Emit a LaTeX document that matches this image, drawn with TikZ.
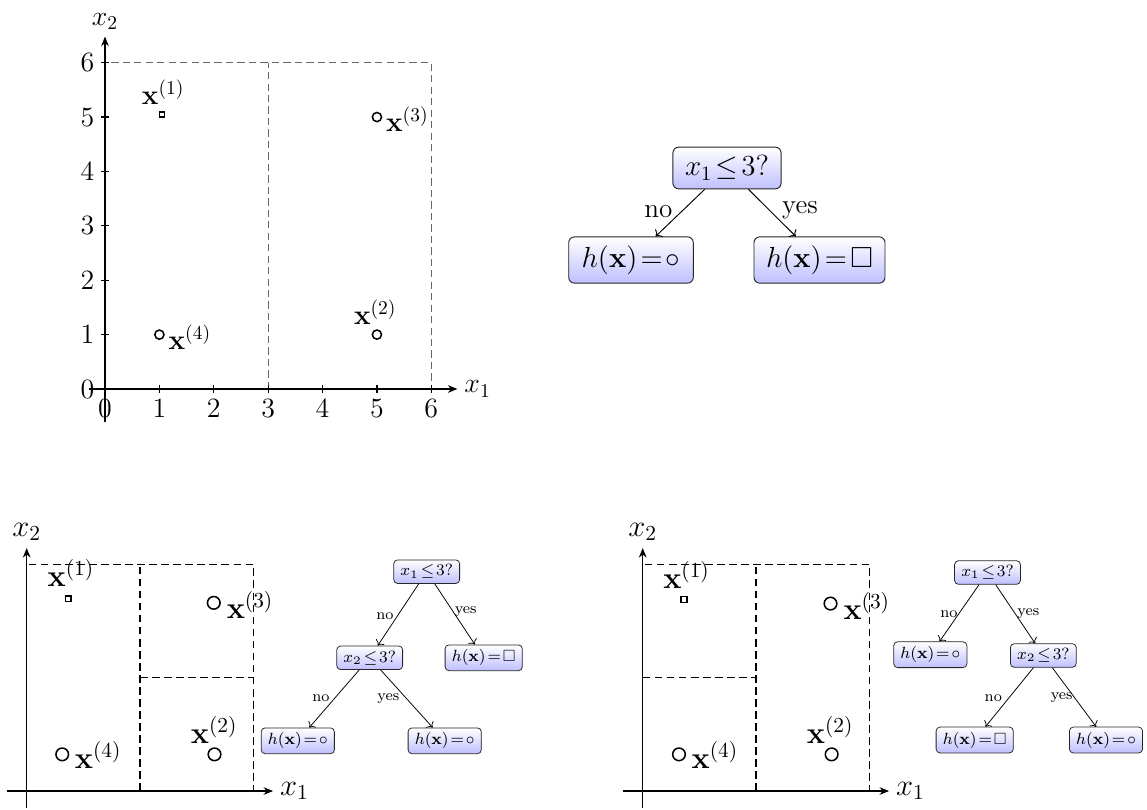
\RequirePackage{fix-cm}
\documentclass[tikz,border=0pt]{standalone}
\usepackage{amssymb}
\usetikzlibrary{arrows.meta}
\newcommand{\relsp}{\mskip2mu}
\tikzset{
  tbox/.style={draw=black!85, line width=0.5pt, rounded corners=3pt, top color=white, bottom color=blue!25},
  bigbox/.style={tbox, inner xsep=6.3pt, inner ysep=4.5pt, font=\fontsize{15.2}{18}\selectfont},
  bigleaf/.style={bigbox, minimum width=2.29cm},
  smallbox/.style={tbox, rounded corners=2pt, line width=0.4pt, inner xsep=3.5pt, inner ysep=2.5pt, font=\fontsize{8.5}{10}\selectfont},
  smallleaf/.style={smallbox, minimum width=1.29cm},
  biglbl/.style={font=\fontsize{14.2}{17}\selectfont, inner sep=0pt},
  smalllbl/.style={font=\fontsize{8}{9.5}\selectfont, inner sep=0pt},
  bigedge/.style={->, line width=0.5pt},
  smalledge/.style={->, line width=0.4pt},
  axisline/.style={-{Stealth[length=5pt,width=4pt]}, line width=0.7pt},
  tickline/.style={line width=0.6pt},
  topdash/.style={draw=black!60, line width=0.6pt, dash pattern=on 3.8pt off 2.2pt},
  botdash/.style={draw=black, line width=0.75pt, dash pattern=on 4pt off 2.3pt},
  circA/.style={circle, draw, line width=0.8pt, minimum size=4.8pt, inner sep=0pt},
  sqA/.style={rectangle, draw, line width=0.8pt, minimum size=2.6pt, inner sep=0pt},
  circB/.style={circle, draw, line width=0.8pt, minimum size=6.6pt, inner sep=0pt},
  sqB/.style={rectangle, draw, line width=0.8pt, minimum size=3.0pt, inner sep=0pt},
}
\begin{document}
\begin{tikzpicture}[x=0.018382cm, y=-0.018382cm]
\useasboundingbox (0,0) rectangle (1147,809);

% ---------- top plot ----------
\begin{scope}[shift={(105,389)}, x=1cm, y=1cm, font=\fontsize{14.6}{17}\selectfont]
  \draw[topdash] (0,0) rectangle (6,6);
  \draw[topdash] (3,0) -- (3,6);
  \foreach \i in {0,...,6} {
    \draw[tickline] (\i,0.08) -- (\i,-0.08) node[below, inner sep=3pt] (tx\i) {$\i$};
    \draw[tickline] (0.08,\i) -- (-0.08,\i) node[left, inner sep=3pt] (ty\i) {$\i$};
  }
  \draw[axisline] (-0.3,0) -- (6.48,0) node[right] (ax1) {$x_1$};
  \draw[axisline] (0,-0.6) -- (0,6.48) node[above] (ax2) {$x_2$};
  \node[sqA] (a1) at (1.05,5.05) {};
  \node[circA] (a3) at (5,5) {};
  \node[circA] (a2) at (5,1) {};
  \node[circA] (a4) at (1,1) {};
  \node (la1) at (1.07,5.46) {$\mathbf{x}^{(1)}$};
  \node (la3) at (5.56,4.96) {$\mathbf{x}^{(3)}$};
  \node (la2) at (4.97,1.41) {$\mathbf{x}^{(2)}$};
  \node (la4) at (1.56,0.96) {$\mathbf{x}^{(4)}$};
\end{scope}

% ---------- top tree ----------
\node[bigbox] (t0) at (727,168) {$x_1\relsp{\leq}\relsp 3?$};
\node[bigleaf] (t1) at (631,260) {$h(\mathbf{x})\relsp{=}\relsp\circ$};
\node[bigleaf] (t2) at (819.5,260) {$h(\mathbf{x})\relsp{=}\relsp\square$};
\draw[bigedge] (t0) -- (t1);
\draw[bigedge] (t0) -- (t2);
\node[biglbl] (tn) at (658.3,211.7) {no};
\node[biglbl] (ty) at (800,210) {yes};

% ---------- bottom-left plot ----------
\begin{scope}[shift={(26.7,791)}, x=0.6948cm, y=0.6948cm, font=\fontsize{16}{19}\selectfont]
  \draw[botdash] (0,0) rectangle (6,6);
  \draw[botdash] (3,0) -- (3,6);
  \draw[botdash] (3,3) -- (6,3);
  \draw[axisline] (-0.53,0) -- (6.52,0) node[right] (bx1) {$x_1$};
  \draw[axisline] (0,-0.45) -- (0,6.43) node[above] (bx2) {$x_2$};
  \node[sqB] (b1) at (1.1,5.09) {};
  \node[circB] (b3) at (4.95,4.98) {};
  \node[circB] (b2) at (4.97,0.97) {};
  \node[circB] (b4) at (0.94,0.97) {};
  \node (lb1) at (1.17,5.78) {$\mathbf{x}^{(1)}$};
  \node (lb3) at (5.91,4.92) {$\mathbf{x}^{(3)}$};
  \node (lb2) at (4.96,1.61) {$\mathbf{x}^{(2)}$};
  \node (lb4) at (1.89,0.95) {$\mathbf{x}^{(4)}$};
\end{scope}

% ---------- bottom-left tree ----------
\node[smallbox] (u0) at (426.7,571.7) {$x_1\relsp{\leq}\relsp 3?$};
\node[smallbox] (u1) at (369.7,657.8) {$x_2\relsp{\leq}\relsp 3?$};
\node[smallleaf] (u2) at (483.7,657.8) {$h(\mathbf{x})\relsp{=}\relsp\square$};
\node[smallleaf] (u3) at (297.8,740.8) {$h(\mathbf{x})\relsp{=}\relsp\circ$};
\node[smallleaf] (u4) at (444.7,740.8) {$h(\mathbf{x})\relsp{=}\relsp\circ$};
\draw[smalledge] (u0) -- (u1);
\draw[smalledge] (u0) -- (u2);
\draw[smalledge] (u1) -- (u3);
\draw[smalledge] (u1) -- (u4);
\node[smalllbl] (un1) at (385,615.7) {no};
\node[smalllbl] (uy1) at (465.7,611.7) {yes};
\node[smalllbl] (un2) at (321,698.3) {no};
\node[smalllbl] (uy2) at (388.3,698.3) {yes};

% ---------- bottom-right plot ----------
\begin{scope}[shift={(642.7,791)}, x=0.6948cm, y=0.6948cm, font=\fontsize{16}{19}\selectfont]
  \draw[botdash] (0,0) rectangle (6,6);
  \draw[botdash] (3,0) -- (3,6);
  \draw[botdash] (0,3) -- (3,3);
  \draw[axisline] (-0.53,0) -- (6.52,0) node[right] (cx1) {$x_1$};
  \draw[axisline] (0,-0.45) -- (0,6.43) node[above] (cx2) {$x_2$};
  \node[sqB] (c1) at (1.09,5.07) {};
  \node[circB] (c3) at (4.97,4.96) {};
  \node[circB] (c2) at (5.0,0.97) {};
  \node[circB] (c4) at (0.96,0.97) {};
  \node (lc1) at (1.16,5.71) {$\mathbf{x}^{(1)}$};
  \node (lc3) at (5.93,4.90) {$\mathbf{x}^{(3)}$};
  \node (lc2) at (4.96,1.61) {$\mathbf{x}^{(2)}$};
  \node (lc4) at (1.91,0.95) {$\mathbf{x}^{(4)}$};
\end{scope}

% ---------- bottom-right tree ----------
\node[smallbox] (v0) at (987.5,572.5) {$x_1\relsp{\leq}\relsp 3?$};
\node[smallleaf] (v1) at (930.3,654.7) {$h(\mathbf{x})\relsp{=}\relsp\circ$};
\node[smallbox] (v2) at (1043.3,655.5) {$x_2\relsp{\leq}\relsp 3?$};
\node[smallleaf] (v3) at (974.7,740) {$h(\mathbf{x})\relsp{=}\relsp\square$};
\node[smallleaf] (v4) at (1106,740) {$h(\mathbf{x})\relsp{=}\relsp\circ$};
\draw[smalledge] (v0) -- (v1);
\draw[smalledge] (v0) -- (v2);
\draw[smalledge] (v2) -- (v3);
\draw[smalledge] (v2) -- (v4);
\node[smalllbl] (vn1) at (949,614) {no};
\node[smalllbl] (vy1) at (1028.3,614) {yes};
\node[smalllbl] (vn2) at (993.3,698) {no};
\node[smalllbl] (vy2) at (1061.7,698) {yes};
\end{tikzpicture}
\end{document}
